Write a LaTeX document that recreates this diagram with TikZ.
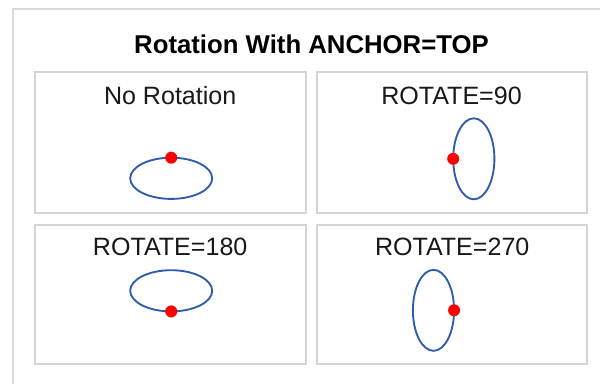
\documentclass[tikz,border=0pt]{standalone}
\usepackage{fontspec}
\setmainfont{Liberation Sans}
\definecolor{framegray}{RGB}{218,218,218}
\definecolor{panelgray}{RGB}{212,212,212}
\definecolor{ellblue}{RGB}{48,92,172}
\definecolor{txtgray}{RGB}{25,25,25}
\tikzset{
  panelbox/.style={draw=panelgray, line width=1.5pt},
  framebox/.style={draw=framegray, line width=1.5pt},
  ringline/.style={draw=ellblue, line width=1.4pt},
  anchordot/.style={fill=red},
  paneltitle/.style={anchor=base, inner sep=0pt, text=txtgray, font=\fontsize{18.8}{22}\selectfont},
  maintitle/.style={anchor=base, inner sep=0pt, text=black, font=\bfseries\fontsize{19.3}{22}\selectfont}
}
\begin{document}
\begin{tikzpicture}[x=0.75pt,y=-0.75pt]
\useasboundingbox (0,0) rectangle (600,383);
\fill[white] (0,0) rectangle (600,383);
% outer frame (only left and top edges visible)
\draw[framebox] (12.7,390) -- (12.7,9) -- (610,9);
% panels
\draw[panelbox] (35,72) rectangle (306,213);
\draw[panelbox] (317,72) rectangle (587,213);
\draw[panelbox] (35,225) rectangle (306,364);
\draw[panelbox] (317,225) rectangle (587,364);
% title
\node[maintitle] (title) at (311.5,53.3) {Rotation With ANCHOR=TOP};
% panel titles
\node[paneltitle] (t1) at (170.2,104.3) {No Rotation};
\node[paneltitle] (t2) at (451.5,104.3) {ROTATE=90};
\node[paneltitle] (t3) at (170.2,255.7) {ROTATE=180};
\node[paneltitle] (t4) at (452.2,255.7) {ROTATE=270};
% ellipses
\coordinate (e1) at (171.2,178.3);
\coordinate (e2) at (473.8,158.8);
\coordinate (e3) at (171.2,290.8);
\coordinate (e4) at (433.5,310.3);
\draw[ringline] (e1) ellipse [x radius=41*0.75pt, y radius=20.6*0.75pt];
\draw[ringline] (e2) ellipse [x radius=20.6*0.75pt, y radius=40.5*0.75pt];
\draw[ringline] (e3) ellipse [x radius=41*0.75pt, y radius=20.6*0.75pt];
\draw[ringline] (e4) ellipse [x radius=20.6*0.75pt, y radius=40.5*0.75pt];
% anchor dots
\coordinate (d1) at (171.2,157.7);
\coordinate (d2) at (453.2,158.8);
\coordinate (d3) at (171.2,311.4);
\coordinate (d4) at (454.1,310.3);
\fill[anchordot] (d1) circle [radius=6*0.75pt];
\fill[anchordot] (d2) circle [radius=6*0.75pt];
\fill[anchordot] (d3) circle [radius=6*0.75pt];
\fill[anchordot] (d4) circle [radius=6*0.75pt];
\end{tikzpicture}
\end{document}
